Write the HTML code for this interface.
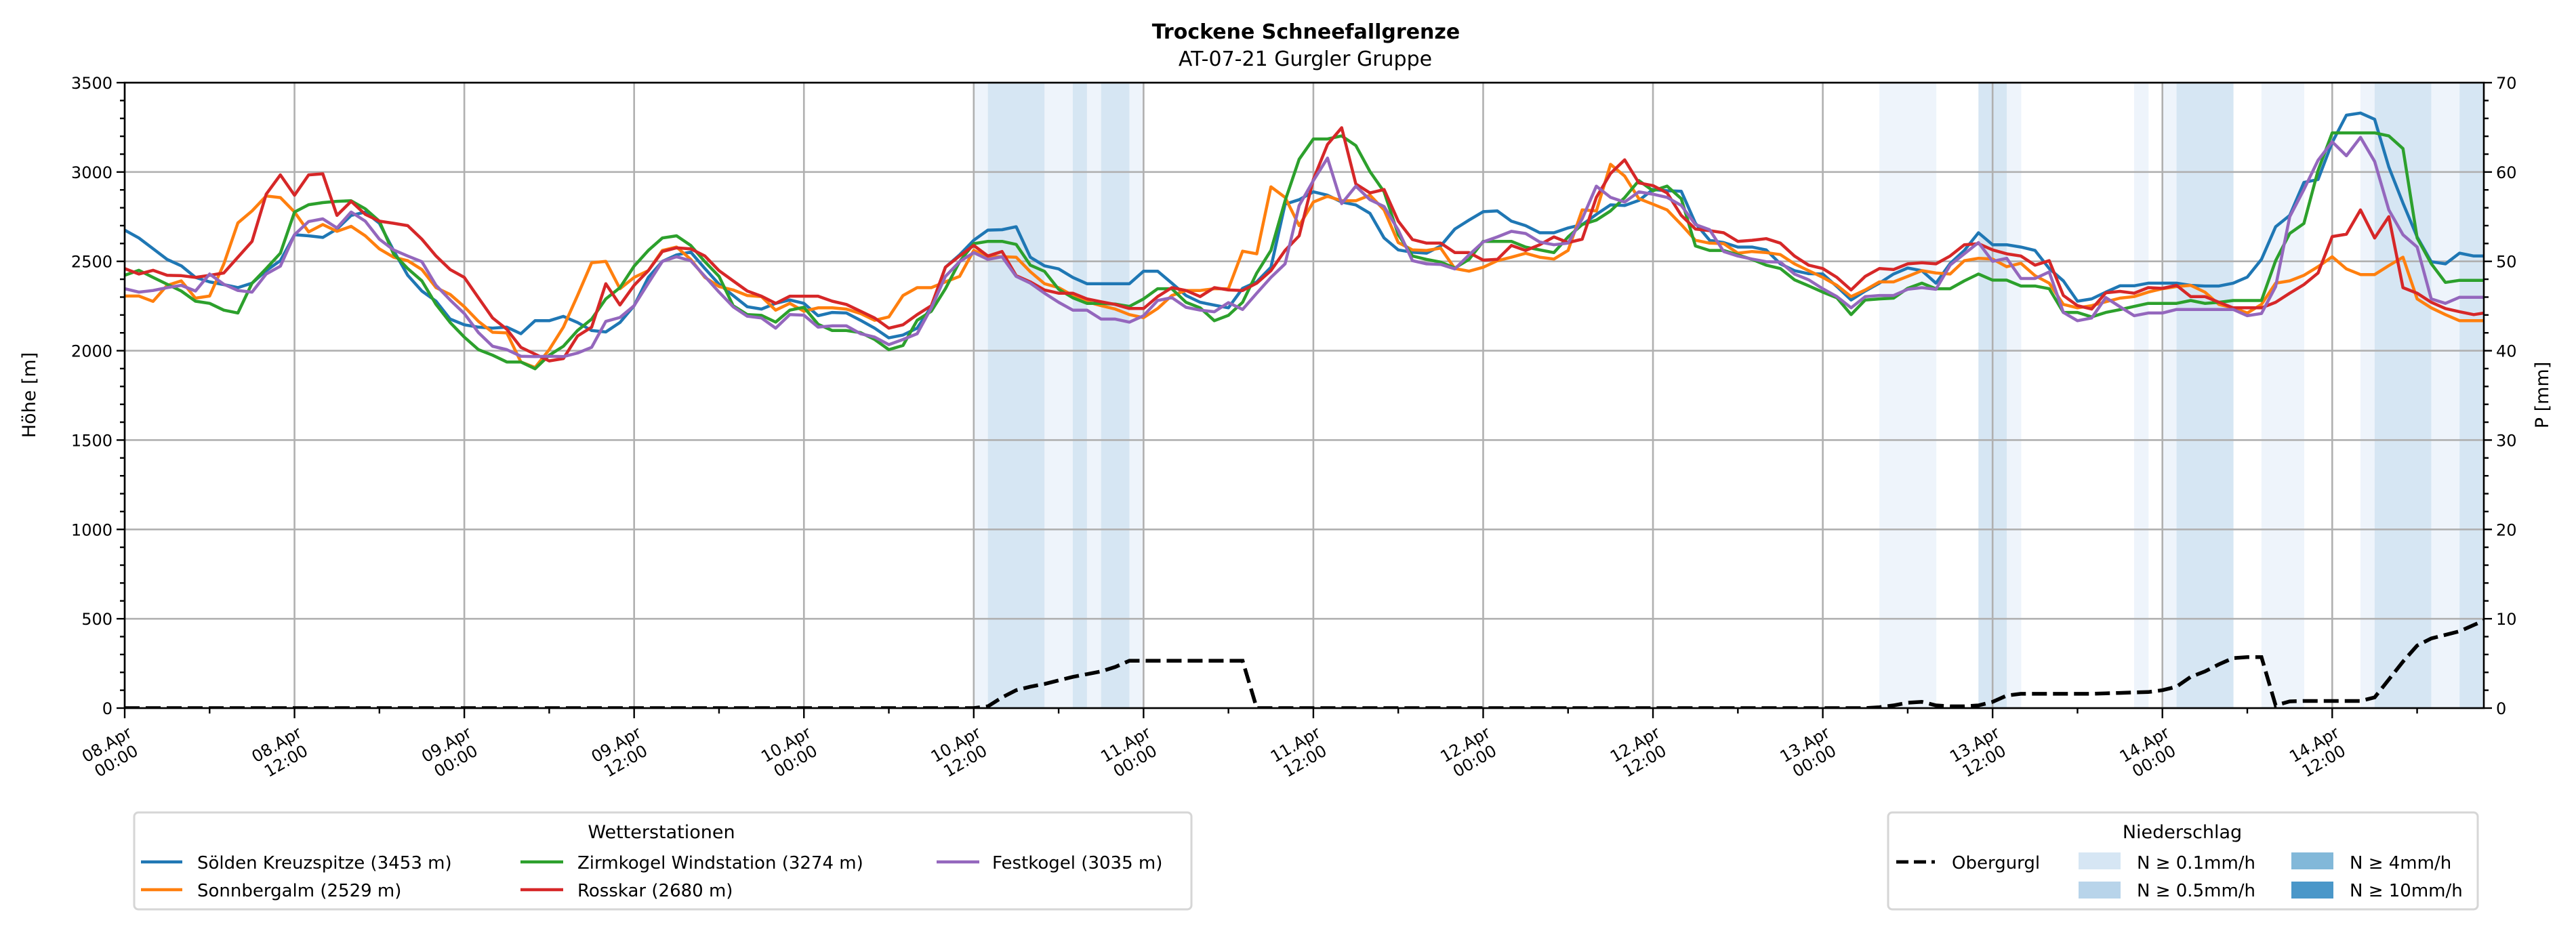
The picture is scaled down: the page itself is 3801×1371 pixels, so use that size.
<!DOCTYPE html>
<html><head><meta charset="utf-8"><style>
html,body{margin:0;padding:0;background:#fff;}
svg{display:block;font-family:"DejaVu Sans","Liberation Sans",sans-serif;}
</style></head><body>
<svg id="chart" width="3801" height="1371" viewBox="0 0 3801 1371" xmlns="http://www.w3.org/2000/svg">
<rect x="0" y="0" width="3801" height="1371" fill="#fff"/>
<text x="1927" y="57" text-anchor="middle" font-size="30" font-weight="bold">Trockene Schneefallgrenze</text>
<text x="1926" y="97" text-anchor="middle" font-size="30">AT-07-21 Gurgler Gruppe</text>
<defs><clipPath id="plotclip"><rect x="184" y="122" width="3481" height="923"/></clipPath></defs>
<g id="bands" clip-path="url(#plotclip)"></g>
<g id="grid"></g>
<g id="series" clip-path="url(#plotclip)"></g>
<g id="axes"></g>
<text transform="translate(52,583) rotate(-90)" text-anchor="middle" font-size="27">Höhe [m]</text>
<text transform="translate(3760,583) rotate(-90)" text-anchor="middle" font-size="27">P [mm]</text>

<g>
<rect x="198" y="1199" width="1560" height="143" rx="6" fill="#fff" stroke="#d6d6d6" stroke-width="3"/>
<text x="976" y="1237" text-anchor="middle" font-size="27">Wetterstationen</text>
<g><line x1="208" y1="1272" x2="269" y2="1272" stroke="#1f77b4" stroke-width="4.5"/><text x="291" y="1282" font-size="26">Sölden Kreuzspitze (3453 m)</text></g>
<g><line x1="208" y1="1313" x2="269" y2="1313" stroke="#ff7f0e" stroke-width="4.5"/><text x="291" y="1323" font-size="26">Sonnbergalm (2529 m)</text></g>
<g><line x1="768" y1="1272" x2="831" y2="1272" stroke="#2ca02c" stroke-width="4.5"/><text x="852" y="1282" font-size="26">Zirmkogel Windstation (3274 m)</text></g>
<g><line x1="768" y1="1313" x2="831" y2="1313" stroke="#d62728" stroke-width="4.5"/><text x="852" y="1323" font-size="26">Rosskar (2680 m)</text></g>
<g><line x1="1382" y1="1272" x2="1445" y2="1272" stroke="#9467bd" stroke-width="4.5"/><text x="1464" y="1282" font-size="26">Festkogel (3035 m)</text></g>
</g>

<g>
<rect x="2786" y="1199" width="870" height="143" rx="6" fill="#fff" stroke="#d6d6d6" stroke-width="3"/>
<text x="3220" y="1237" text-anchor="middle" font-size="27">Niederschlag</text>
<g><line x1="2798" y1="1272" x2="2855" y2="1272" stroke="#000" stroke-width="5" stroke-dasharray="18,8"/><text x="2880" y="1282" font-size="26">Obergurgl</text></g>
<g><rect x="3067" y="1258" width="62" height="25" fill="#d6e6f4"/><text x="3153" y="1282" font-size="26">N ≥ 0.1mm/h</text></g>
<g><rect x="3067" y="1301" width="62" height="25" fill="#b8d4ea"/><text x="3153" y="1323" font-size="26">N ≥ 0.5mm/h</text></g>
<g><rect x="3381" y="1258" width="62" height="25" fill="#82b8d9"/><text x="3467" y="1282" font-size="26">N ≥ 4mm/h</text></g>
<g><rect x="3381" y="1301" width="62" height="25" fill="#4a97c9"/><text x="3467" y="1323" font-size="26">N ≥ 10mm/h</text></g>
</g>
</svg>
<script>
const blue=[2675,2631,2571,2511,2475,2410,2385,2370,2353,2378,2448,2504,2649,2643,2634,2681,2757,2776,2713,2561,2422,2334,2277,2177,2145,2132,2126,2132,
2095,2168,2168,2192,2158,2113,2105,2158,2252,2410,2500,2536,2552,2460,2372,2309,2246,2233,2265,2284,2265,2196,2214,2211,2170,2126,2072,2088,
2126,2246,2467,2536,2618,2675,2677,2694,2523,2475,2458,2410,2375,2375,2375,2375,2445,2445,2378,2309,2271,2255,2240,2349,2385,2467,2820,2845,
2889,2870,2832,2816,2769,2631,2564,2551,2546,2586,2681,2731,2778,2782,2725,2700,2660,2660,2687,2706,2763,2816,2813,2841,2902,2895,2892,2713,
2618,2605,2580,2580,2564,2486,2448,2431,2429,2359,2284,2334,2378,2429,2463,2448,2378,2488,2561,2660,2593,2593,2580,2561,2460,2391,2277,2290,
2328,2363,2363,2378,2378,2378,2366,2362,2362,2378,2412,2511,2694,2757,2942,2958,3166,3318,3330,3295,3028,2826,2637,2498,2486,2546,2530,2530];
const orange=[2306,2306,2276,2366,2391,2294,2306,2485,2715,2782,2866,2857,2776,2665,2706,2668,2696,2643,2570,2523,2504,2454,2353,2315,2246,2164,2103,2100,
1937,1906,2006,2132,2309,2492,2500,2347,2410,2448,2561,2580,2511,2410,2359,2340,2309,2303,2227,2265,2221,2240,2240,2233,2208,2170,2189,2309,
2353,2353,2385,2416,2561,2526,2526,2523,2442,2375,2353,2309,2274,2252,2233,2202,2185,2236,2309,2337,2337,2347,2347,2557,2542,2917,2858,2700,
2832,2864,2839,2839,2870,2788,2605,2564,2561,2574,2460,2445,2467,2504,2523,2545,2523,2513,2561,2788,2782,3043,2977,2851,2820,2788,2706,2618,
2602,2599,2546,2555,2549,2538,2486,2448,2410,2366,2303,2340,2385,2385,2416,2448,2435,2429,2504,2517,2513,2470,2489,2420,2378,2259,2240,2252,
2274,2294,2303,2328,2347,2359,2366,2328,2259,2240,2211,2259,2378,2391,2422,2470,2526,2458,2426,2426,2476,2523,2290,2240,2202,2168,2168,2168];
const green=[2422,2450,2410,2372,2334,2277,2265,2227,2211,2378,2460,2546,2776,2817,2829,2836,2839,2794,2725,2542,2460,2391,2259,2158,2076,2006,1975,1937,
1937,1899,1975,2025,2113,2177,2290,2353,2473,2561,2631,2643,2589,2498,2416,2252,2202,2198,2160,2227,2243,2148,2113,2113,2101,2063,2006,2029,
2170,2221,2347,2498,2599,2612,2612,2595,2479,2444,2344,2296,2265,2265,2261,2248,2290,2347,2347,2271,2240,2168,2198,2271,2435,2561,2839,3072,
3185,3185,3202,3148,3003,2889,2649,2530,2511,2496,2463,2511,2612,2612,2612,2580,2564,2549,2637,2706,2731,2782,2857,2952,2895,2921,2851,2586,
2561,2561,2536,2511,2479,2460,2397,2363,2328,2296,2202,2284,2290,2294,2349,2378,2347,2347,2391,2429,2395,2395,2362,2362,2347,2214,2214,2189,
2214,2230,2248,2265,2265,2265,2281,2265,2271,2281,2281,2281,2504,2656,2712,3009,3219,3219,3219,3219,3202,3131,2631,2487,2382,2394,2394,2394];
const red=[2460,2429,2450,2422,2420,2410,2422,2435,2523,2612,2876,2984,2870,2984,2990,2757,2836,2763,2725,2713,2700,2624,2530,2454,2410,2296,2183,2120,
2019,1981,1943,1956,2082,2132,2375,2256,2366,2448,2555,2576,2570,2530,2448,2391,2334,2305,2265,2305,2305,2305,2277,2259,2221,2183,2126,2145,
2202,2252,2467,2530,2589,2530,2555,2420,2385,2340,2322,2322,2290,2274,2259,2236,2236,2303,2353,2337,2303,2353,2340,2337,2378,2448,2561,2643,
2958,3154,3248,2933,2883,2902,2725,2622,2602,2602,2549,2549,2507,2511,2589,2561,2593,2637,2605,2624,2858,2992,3068,2939,2924,2883,2757,2681,
2672,2660,2612,2618,2627,2602,2530,2479,2460,2410,2340,2416,2460,2454,2486,2492,2486,2530,2593,2599,2564,2542,2530,2479,2504,2309,2252,2233,
2324,2332,2322,2353,2349,2366,2303,2303,2271,2240,2240,2240,2271,2322,2370,2435,2639,2652,2788,2631,2750,2353,2322,2271,2236,2218,2202,2214];
const purple=[2347,2328,2337,2353,2366,2334,2429,2372,2337,2328,2429,2473,2649,2723,2738,2687,2776,2725,2624,2564,2530,2498,2366,2284,2208,2101,2025,2006,
1969,1967,1969,1967,1987,2019,2164,2186,2252,2378,2500,2526,2504,2416,2328,2246,2193,2183,2126,2202,2199,2132,2139,2139,2095,2076,2034,2063,
2095,2240,2416,2498,2549,2511,2526,2416,2378,2322,2271,2227,2227,2177,2177,2160,2196,2281,2297,2243,2227,2218,2269,2231,2322,2410,2486,2813,
2952,3078,2823,2921,2845,2807,2675,2504,2486,2483,2458,2536,2609,2637,2668,2656,2608,2593,2602,2738,2921,2858,2832,2889,2876,2858,2813,2706,
2677,2555,2530,2513,2498,2496,2429,2397,2347,2303,2240,2303,2309,2309,2344,2353,2344,2479,2542,2605,2500,2517,2404,2404,2441,2214,2168,2183,
2297,2246,2196,2211,2211,2231,2231,2231,2231,2231,2196,2208,2359,2750,2902,3066,3169,3091,3194,3059,2788,2649,2580,2290,2265,2299,2299,2299];
const precipMM=[0,0,0,0,0,0,0,0,0,0,0,0,0,0,0,0,0,0,0,0,0,0,0,0,0,0,0,0,0,0,0,0,0,0,0,0,0,0,0,0,0,0,0,0,0,0,0,0,0,0,0,0,0,0,0,0,0,0,0,0,
0,0.2,1.2,2.0,2.4,2.7,3.1,3.5,3.8,4.1,4.6,5.3,5.3,5.3,5.3,5.3,5.3,5.3,5.3,5.3,0,0,0,0,0,0,0,0,0,0,0,0,0,0,0,0,0,0,0,0,
0,0,0,0,0,0,0,0,0,0,0,0,0,0,0,0,0,0,0,0,0,0,0,0,0.1,0.3,0.6,0.7,0.3,0.2,0.2,0.3,0.7,1.4,1.6,1.6,1.6,1.6,1.6,1.6,
1.65,1.7,1.75,1.8,2.0,2.4,3.5,4.1,4.9,5.6,5.7,5.7,0.3,0.75,0.8,0.8,0.8,0.8,0.8,1.2,3.2,5.2,7.0,7.8,8.2,8.6,9.3,10.0];
const bandHours=[60,61,62,63,64,65,66,67,68,69,70,71,124,125,126,127,131,132,133,142,144,145,146,147,148,151,152,153,158,159,160,161,162,163,164,165,166];
const bandLevels=[1,2,2,2,2,1,1,2,1,2,2,1,1,1,1,1,2,2,1,1,1,2,2,2,2,1,1,1,1,2,2,2,2,1,1,2,2];
const yTicks=[0,500,1000,1500,2000,2500,3000,3500];
const y2Ticks=[0,10,20,30,40,50,60,70];
const xTickLabels=[["08.Apr","00:00"],["08.Apr","12:00"],["09.Apr","00:00"],["09.Apr","12:00"],["10.Apr","00:00"],["10.Apr","12:00"],["11.Apr","00:00"],["11.Apr","12:00"],["12.Apr","00:00"],["12.Apr","12:00"],["13.Apr","00:00"],["13.Apr","12:00"],["14.Apr","00:00"],["14.Apr","12:00"]];

const NS="http://www.w3.org/2000/svg";
const L=184,R=3665,T=122,B=1045,HPX=20.88;
const X=h=>L+h*HPX;
const Y=v=>B-v*(B-T)/3500;
const Y2=p=>Y(p*50);
function mk(tag,attrs,parent){const e=document.createElementNS(NS,tag);for(const k in attrs)e.setAttribute(k,attrs[k]);parent.appendChild(e);return e;}
const gB=document.getElementById('bands'),gG=document.getElementById('grid'),gS=document.getElementById('series'),gA=document.getElementById('axes');
const bandColors={1:"#eef4fb",2:"#d6e6f3",3:"#a9cde6",4:"#6fa8d4"};
bandHours.forEach((h,i)=>{
  const r=mk('rect',{x:X(h),y:T,width:HPX+0.5,height:B-T,fill:bandColors[bandLevels[i]]},gB);
  
  
});
yTicks.forEach(v=>{
  const l=mk('line',{x1:L,x2:R,y1:Y(v),y2:Y(v),stroke:"#b0b0b0","stroke-width":2.6},gG);
  
  
});
xTickLabels.forEach((t,i)=>{
  const x=X(i*12);
  const l=mk('line',{x1:x,x2:x,y1:T,y2:B,stroke:"#b0b0b0","stroke-width":2.6},gG);
  
  
});
const names=[["blue","#1f77b4",blue],["orange","#ff7f0e",orange],["green","#2ca02c",green],["red","#d62728",red],["purple","#9467bd",purple]];
names.forEach(([n,c,arr])=>{
  const d=arr.map((v,i)=>(i?'L':'M')+X(i).toFixed(1)+','+Y(v).toFixed(1)).join('');
  const p=mk('path',{d:d,fill:"none",stroke:c,"stroke-width":4.5,"stroke-linejoin":"round"},gS);
  
  
});
const pd=precipMM.map((v,i)=>(i?'L':'M')+X(i).toFixed(1)+','+Y2(v).toFixed(1)).join('');
const pp=mk('path',{d:pd,fill:"none",stroke:"#000","stroke-width":5.5,"stroke-dasharray":"22,9"},gS);


const fr=mk('rect',{x:L,y:T,width:R-L,height:B-T,fill:"none",stroke:"#000","stroke-width":2.6},gA);


for(let v=0;v<=3500;v+=100){
  const maj=v%500===0;
  const t=mk('line',{x1:L,x2:L-(maj?12:7),y1:Y(v),y2:Y(v),stroke:"#000","stroke-width":2.4},gA);
  
  
}
for(let p=0;p<=70;p+=2){
  const maj=p%10===0;
  const t=mk('line',{x1:R,x2:R+(maj?12:7),y1:Y2(p),y2:Y2(p),stroke:"#000","stroke-width":2.4},gA);
  
  
}
yTicks.forEach(v=>{
  const t=mk('text',{x:L-18,y:Y(v)+9,"text-anchor":"end","font-size":24},gA);
  t.textContent=v;
  
  
});
y2Ticks.forEach(p=>{
  const t=mk('text',{x:R+18,y:Y2(p)+9,"text-anchor":"start","font-size":24},gA);
  t.textContent=p;
  
  
});
for(let h=0;h<=166;h+=6){
  const maj=h%12===0;
  const t=mk('line',{x1:X(h),x2:X(h),y1:B,y2:B+(maj?15:8),stroke:"#000","stroke-width":2.4},gA);
  
  
}
xTickLabels.forEach((lab,i)=>{
  const g=mk('g',{transform:`translate(${X(i*12)+10},1078) rotate(-30)`},gA);
  
  
  const t1=mk('text',{x:-42,y:8,"text-anchor":"middle","font-size":24},g);t1.textContent=lab[0];
  const t2=mk('text',{x:-42,y:36,"text-anchor":"middle","font-size":24},g);t2.textContent=lab[1];
});
</script>
</body></html>
